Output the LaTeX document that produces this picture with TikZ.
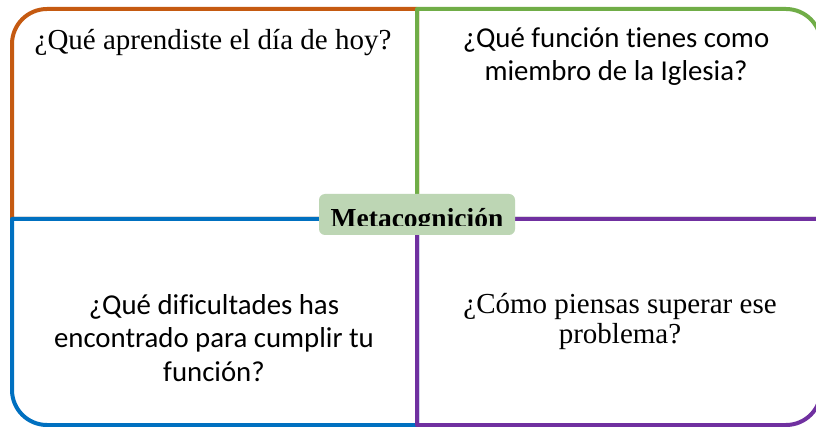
\documentclass[tikz,border=0pt]{standalone}
\usepackage{fontspec}
\newfontfamily\tnrfont{Liberation Serif}
\newfontfamily\carlfont[Ligatures={NoCommon}]{Carlito}
\definecolor{qorange}{HTML}{C55A11}
\definecolor{qgreen}{HTML}{70AD47}
\definecolor{qblue}{HTML}{0070C0}
\definecolor{qpurple}{HTML}{7030A0}
\definecolor{boxgreen}{HTML}{BDD6B4}
\tikzset{
  quad/.style={line width=4pt, line join=round},
  serifq/.style={font=\tnrfont\fontsize{29}{30}\selectfont, align=center, inner sep=0pt, text=black},
  sansq/.style={font=\carlfont\fontsize{28.8}{33.5}\selectfont, align=center, inner sep=0pt, text=black},
}
\begin{document}
\begin{tikzpicture}[x=1pt,y=-1pt]
\useasboundingbox (0,0) rectangle (816,427);
\clip (0,0) rectangle (816,427);
\fill[white] (0,0) rectangle (816,427);
% quadrants
\draw[quad, qorange] (417,219) -- (12,219) -- (12,44) arc[start angle=180,end angle=90,radius=35pt] -- (417,9) -- cycle;
\draw[quad, qgreen] (417,219) -- (417,9) -- (786,9) arc[start angle=90,end angle=0,radius=35pt] -- (821,219) -- cycle;
\draw[quad, qblue] (417,219) -- (12,219) -- (12,390) arc[start angle=180,end angle=270,radius=35pt] -- (417,425) -- cycle;
\draw[quad, qpurple] (417,219) -- (821,219) -- (821,390) arc[start angle=0,end angle=-90,radius=35pt] -- (417,425) -- cycle;
% texts
\node[serifq, anchor=base] (tl) at (213,50) {¿Qué aprendiste el día de hoy?};
\node[sansq, anchor=north] (tr) at (616,27) {¿Qué función tienes como\\miembro de la Iglesia?};
\node[sansq, anchor=north] (bl) at (214,294) {¿Qué dificultades has\\encontrado para cumplir tu\\función?};
\node[serifq, anchor=north] (br) at (620,293) {¿Cómo piensas superar ese\\problema?};
% center
\fill[boxgreen, rounded corners=6pt] (319,194) rectangle (515,235);
\begin{scope}
\clip (319,194) rectangle (515,226);
\node[font=\tnrfont\bfseries\fontsize{27.5}{30}\selectfont, inner sep=0pt, anchor=base] (meta) at (417,228) {Metacognición};
\end{scope}
\end{tikzpicture}
\end{document}
